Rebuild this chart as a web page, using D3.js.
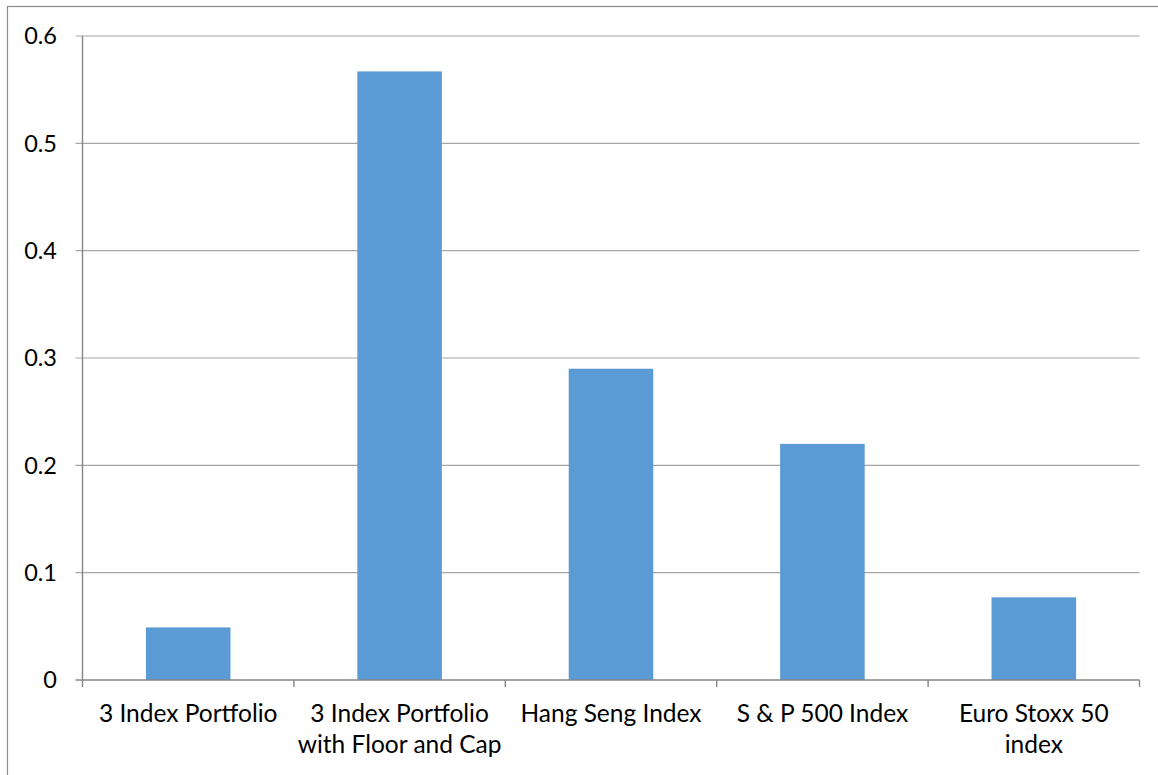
<!DOCTYPE html>
<html>
<head>
<meta charset="utf-8">
<script src="https://cdn.jsdelivr.net/npm/d3@7"></script>
<style>
  body { margin: 0; background: #fff; }
  text { font-family: Lato, "Noto Sans", sans-serif; fill: #000; }
</style>
</head>
<body>
<div id="chart"></div>
<script>
var width = 1158,
    height = 775;

// data
var categories = [
  ["3 Index Portfolio"],
  ["3 Index Portfolio", "with Floor and Cap"],
  ["Hang Seng Index"],
  ["S & P 500 Index"],
  ["Euro Stoxx 50", "index"]
];
var values = [0.049, 0.567, 0.29, 0.22, 0.077];
var yTicks = [0, 0.1, 0.2, 0.3, 0.4, 0.5, 0.6];

var margin = { left: 82.5, right: 1139.5, top: 36, bottom: 680 };

var svg = d3.select("#chart").append("svg")
    .attr("width", width)
    .attr("height", height);

// outer frame
svg.append("rect")
  .attr("x", 7.5)
  .attr("y", 6.5)
  .attr("width", width)
  .attr("height", height)
  .attr("fill", "none")
  .attr("stroke", "#8c8c8c")
  .attr("stroke-width", 1.2);

var x = d3.scaleBand()
    .domain(d3.range(categories.length))
    .range([margin.left, margin.right])
    .paddingInner(0.6)
    .paddingOuter(0.3);

var y = d3.scaleLinear()
    .domain([0, 0.6])
    .range([margin.bottom, margin.top]);

// gridlines
svg.append("g")
  .selectAll("line")
  .data(yTicks.filter(function(d) { return d > 0; }))
  .enter().append("line")
  .attr("x1", margin.left - 7)
  .attr("x2", margin.right)
  .attr("y1", function(d) { return y(d); })
  .attr("y2", function(d) { return y(d); })
  .attr("stroke", "#a6a6a6")
  .attr("stroke-width", 1.2);

// y tick labels
svg.append("g")
  .selectAll("text")
  .data(yTicks)
  .enter().append("text")
  .attr("x", 57)
  .attr("y", function(d) { return y(d); })
  .attr("dy", "0.36em")
  .attr("text-anchor", "end")
  .style("font-size", "23.5px")
  .text(function(d) { return d3.format("")(d); });

// bars
svg.append("g")
  .selectAll("rect")
  .data(values)
  .enter().append("rect")
  .attr("x", function(d, i) { return x(i); })
  .attr("y", function(d) { return y(d); })
  .attr("width", x.bandwidth())
  .attr("height", function(d) { return y(0) - y(d); })
  .attr("fill", "#5b9bd5");

// axes lines
svg.append("line")
  .attr("x1", margin.left).attr("x2", margin.left)
  .attr("y1", margin.top).attr("y2", margin.bottom + 7)
  .attr("stroke", "#868686").attr("stroke-width", 1.4);

svg.append("line")
  .attr("x1", margin.left - 7).attr("x2", margin.right)
  .attr("y1", margin.bottom).attr("y2", margin.bottom)
  .attr("stroke", "#868686").attr("stroke-width", 1.4);

// category tick marks
var step = x.step();
svg.append("g")
  .selectAll("line")
  .data(d3.range(categories.length))
  .enter().append("line")
  .attr("x1", function(i) { return x(i) + x.bandwidth() / 2 + step / 2; })
  .attr("x2", function(i) { return x(i) + x.bandwidth() / 2 + step / 2; })
  .attr("y1", margin.bottom)
  .attr("y2", margin.bottom + 7)
  .attr("stroke", "#868686")
  .attr("stroke-width", 1.4);

// category labels
var labels = svg.append("g")
  .selectAll("text")
  .data(categories)
  .enter().append("text")
  .attr("x", function(d, i) { return x(i) + x.bandwidth() / 2; })
  .attr("y", 722)
  .attr("text-anchor", "middle")
  .style("font-size", "24.5px");

labels.selectAll("tspan")
  .data(function(d) { return d; })
  .enter().append("tspan")
  .attr("x", function() { return d3.select(this.parentNode).attr("x"); })
  .attr("dy", function(d, i) { return i ? 31 : 0; })
  .text(function(d) { return d; });
</script>
</body>
</html>
